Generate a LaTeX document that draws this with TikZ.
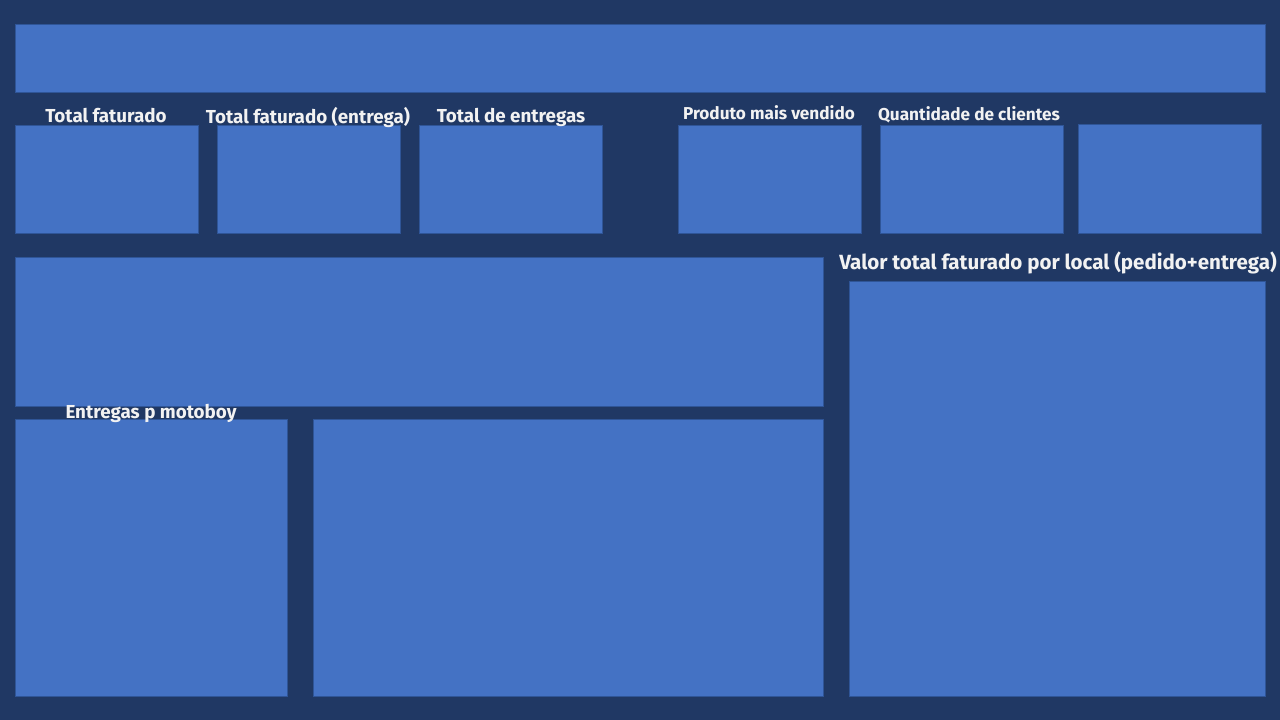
\documentclass[tikz,border=0pt]{standalone}
\usepackage{fontspec}
\setmainfont{Fira Sans}
\definecolor{bgc}{HTML}{203864}
\definecolor{boxc}{HTML}{4472C4}
\definecolor{edgec}{HTML}{2F5597}
\definecolor{txtc}{HTML}{F2F2F2}
\tikzset{
  panel/.style={fill=boxc, draw=edgec, line width=0.75pt},
  lbl/.style={text=txtc, font=\bfseries\fontsize{14.1}{16}\selectfont, inner sep=0pt, anchor=base},
  lblsm/.style={text=txtc, font=\bfseries\fontsize{12.9}{15}\selectfont, inner sep=0pt, anchor=base},
  lblbig/.style={text=txtc, font=\bfseries\fontsize{15.4}{18}\selectfont, inner sep=0pt, anchor=base},
}
\begin{document}
\begin{tikzpicture}[x=0.75pt, y=-0.75pt]
\fill[bgc] (0,0) rectangle (1280,720);
\useasboundingbox (0,0) rectangle (1280,720);
% top banner
\path[panel] (15,25) rectangle (1265,93);
% KPI row
\path[panel] (15,126) rectangle (198,234);
\path[panel] (217,126) rectangle (400,234);
\path[panel] (419,126) rectangle (602,234);
\path[panel] (678,126) rectangle (861,234);
\path[panel] (880,126) rectangle (1063,234);
\path[panel] (1078,125) rectangle (1261,234);
% middle
\path[panel] (15,257) rectangle (823,406);
\path[panel] (849,281) rectangle (1265,696);
% bottom
\path[panel] (15,419) rectangle (287,696);
\path[panel] (313,419) rectangle (823,696);
% labels
\node[lbl] (l1) at (106,122.5) {Total faturado};
\node[lbl] (l2) at (308,123.5) {Total faturado (entrega)};
\node[lbl] (l3) at (511,122.5) {Total de entregas};
\node[lblsm] (l4) at (769,120) {Produto mais vendido};
\node[lblsm] (l5) at (969,121) {Quantidade de clientes};
\node[lblbig] (l6) at (1058,269) {Valor total faturado por local (pedido+entrega)};
\node[lbl] (l7) at (151,418.5) {Entregas p motoboy};
\end{tikzpicture}
\end{document}
